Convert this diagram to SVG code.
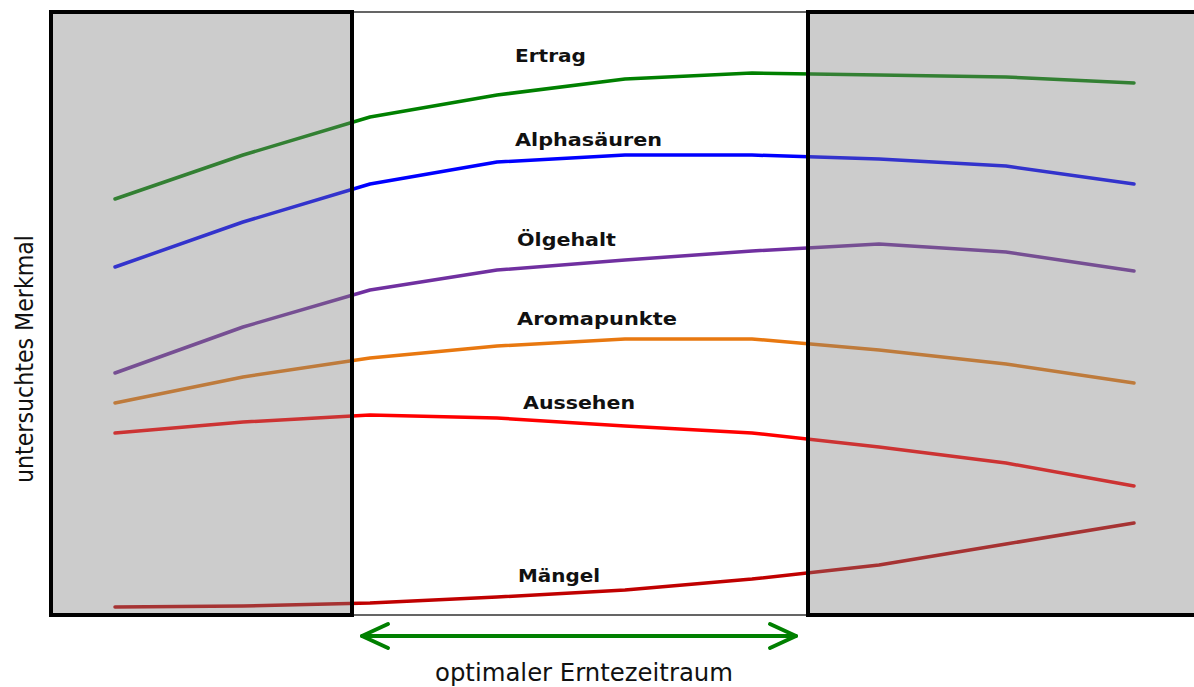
<svg xmlns="http://www.w3.org/2000/svg" width="1194" height="687" viewBox="0 0 1194 687">
<style>
.ln{fill:none;stroke-width:3.5;stroke-linejoin:round;stroke-linecap:round}
.lbl{font-family:"DejaVu Sans","Liberation Sans",sans-serif;font-weight:bold;font-size:18.5px;fill:#111}
.shade{fill:#808080;fill-opacity:0.4;stroke:#000;stroke-width:4}
.ax{font-family:"DejaVu Sans Condensed","DejaVu Sans","Liberation Sans",sans-serif;font-size:24px;fill:#111}
</style>
<rect width="1194" height="687" fill="#fff"/>
<g id="optimal-zone"><rect x="352" y="12" width="456" height="603" fill="#fff" stroke="#333" stroke-width="1.5"/></g>
<g id="connectors">
<polyline id="ertrag" class="ln" stroke="#008000" points="115,199 243,155 370,117 497,95 625,79 752,73 879,75 1006,77 1134,83"/>
<polyline id="alpha" class="ln" stroke="#0000ff" points="115,267 243,222 370,184 497,162 625,155 752,155 879,159 1006,166 1134,184"/>
<polyline id="oel" class="ln" stroke="#7030a0" points="115,373 243,327 370,290 497,270 625,260 752,251 879,244 1006,252 1134,271"/>
<polyline id="aroma" class="ln" stroke="#e87810" points="115,403 243,377 370,358 497,346 625,339 752,339 879,350 1006,364 1134,383"/>
<polyline id="aussehen" class="ln" stroke="#ff0000" points="115,433 243,422 370,415 497,418 625,426 752,433 879,447 1006,463 1134,486"/>
<polyline id="maengel" class="ln" stroke="#c00000" points="115,607 243,606 370,603 497,597 625,590 752,579 879,565 1006,544 1134,523"/>
</g>
<g id="early-zone"><rect class="shade" x="51" y="12" width="301" height="603"/></g>
<g id="late-zone"><rect class="shade" x="808" y="12" width="392" height="603"/></g>
<g id="labels">
<text class="lbl" x="515" y="62" textLength="71" lengthAdjust="spacingAndGlyphs">Ertrag</text>
<text class="lbl" x="515" y="146" textLength="147" lengthAdjust="spacingAndGlyphs">Alphasäuren</text>
<text class="lbl" x="517" y="246" textLength="99" lengthAdjust="spacingAndGlyphs">Ölgehalt</text>
<text class="lbl" x="517" y="325" textLength="160" lengthAdjust="spacingAndGlyphs">Aromapunkte</text>
<text class="lbl" x="523" y="409" textLength="112" lengthAdjust="spacingAndGlyphs">Aussehen</text>
<text class="lbl" x="518" y="582" textLength="82" lengthAdjust="spacingAndGlyphs">Mängel</text>
</g>
<g id="harvest-arrow" fill="none" stroke="#008000" stroke-width="4" stroke-linecap="round" stroke-linejoin="round">
<line x1="362" y1="636" x2="796" y2="636"/>
<polyline points="388,624 362,636 388,648"/>
<polyline points="770,624 796,636 770,648"/>
</g>
<text class="ax" x="584" y="681" text-anchor="middle" textLength="298" lengthAdjust="spacingAndGlyphs">optimaler Erntezeitraum</text>
<text class="ax" transform="translate(33,359) rotate(-90)" x="0" y="0" text-anchor="middle" textLength="248" lengthAdjust="spacingAndGlyphs">untersuchtes Merkmal</text>
</svg>
